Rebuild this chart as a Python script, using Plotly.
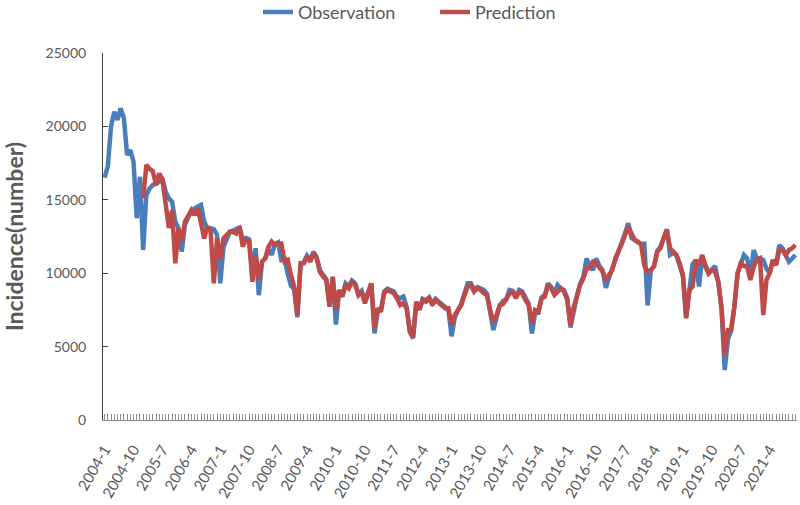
import plotly.graph_objects as go

months = [f"{y}-{m}" for y in range(2004, 2022) for m in range(1, 13)]

observation = [
    16500, 17300, 20000, 21000, 20440, 21230, 20570, 18050, 18390, 17600, 13760, 16570,
    11580, 15330, 15780, 16010, 16100, 16230, 16460, 15550, 15100, 14870, 13510, 13060,
    11470, 13280, 13800, 14190, 14420, 14500, 14650, 13510, 13060, 13060, 13000, 12600,
    9310, 11800, 12300, 12830, 12900, 13000, 13100, 12300, 12400, 12300, 9800, 11700,
    8500, 10800, 11000, 11600, 11250, 12000, 12100, 10900, 11000, 9950, 9150, 8900,
    7000, 10600, 10750, 11200, 10900, 11450, 11100, 10200, 9850, 9600, 7800, 9700,
    6500, 8800, 8500, 9300, 9100, 9500, 9300, 8600, 8800, 8100, 8700, 9300,
    5900, 7400, 7500, 8750, 8950, 8850, 8750, 8400, 8300, 8400, 7700, 6000,
    5560, 7900, 7600, 8250, 8150, 8350, 7950, 8250, 8050, 7950, 7700, 7500,
    5700, 7000, 7500, 7900, 8600, 9310, 9310, 8850, 9050, 8950, 8860, 8600,
    7300, 6130, 7000, 7800, 8100, 8200, 8860, 8800, 8400, 8850, 8750, 8250,
    7900, 5900, 7300, 7300, 8350, 8500, 9310, 9050, 8650, 9200, 8950, 8850,
    8300, 6300, 7600, 8450, 9300, 9750, 11000, 10600, 10200, 11000, 10500, 10200,
    9000, 9700, 10350, 11100, 11550, 12100, 12700, 13400, 12400, 12200, 12100, 12000,
    12000, 7800, 10200, 10500, 11500, 11800, 12450, 13000, 11250, 11400, 11200, 10600,
    9800, 7000, 8800, 10600, 10900, 9100, 11120, 10500, 10000, 10250, 10500, 9400,
    7600, 3400, 5500, 6100, 7700, 10000, 10700, 11240, 11000, 9700, 11580, 11000,
    11000, 10900, 10300, 10000, 10900, 10600, 11920, 11700, 11200, 10780, 11000, 11240,
]

prediction = [
    None, None, None, None, None, None, None, None, None, None, None, None,
    15100, 17370, 17100, 16950, 16010, 16800, 16350, 14650, 13080, 14300, 10670, 13060,
    12150, 13510, 13850, 14300, 13960, 14420, 13400, 12370, 13170, 12830, 9310, 12370,
    11010, 12370, 12600, 12830, 12800, 12700, 13170, 11810, 12260, 12150, 9420, 11240,
    9540, 10780, 11010, 11800, 12150, 11920, 12030, 12030, 10780, 10900, 9880, 9080,
    7150, 10670, 10670, 11120, 10780, 11350, 11010, 10100, 9760, 9540, 7720, 9760,
    7490, 8860, 8400, 9200, 8970, 9420, 9200, 8510, 8740, 7950, 8600, 9310,
    6250, 7610, 7380, 8630, 8860, 8740, 8630, 8290, 7830, 7950, 7610, 6020,
    5680, 8060, 7500, 8170, 8060, 8290, 7830, 8170, 7950, 7830, 7610, 7610,
    6470, 7150, 7500, 7830, 8510, 9080, 9200, 8740, 8970, 8860, 8630, 8510,
    7490, 6700, 7150, 7830, 7900, 8200, 8600, 8740, 8290, 8740, 8630, 8170,
    7830, 6590, 7490, 7380, 8290, 8400, 9200, 8970, 8520, 8740, 8970, 8740,
    8170, 6470, 7720, 8400, 9200, 9650, 10330, 10330, 10780, 10670, 10330, 10100,
    9540, 9900, 10220, 11010, 11470, 12030, 12600, 13170, 12710, 12260, 12150, 11920,
    10500, 10100, 10220, 10440, 11470, 11700, 12370, 12940, 11700, 11470, 11240, 10670,
    9880, 6930, 8860, 9080, 10900, 10560, 11240, 10440, 9990, 10220, 10100, 9420,
    7720, 4400, 6130, 6130, 7720, 9990, 10670, 10500, 10440, 9540, 10440, 10900,
    11010, 7150, 9540, 9990, 10900, 10560, 11580, 11580, 11240, 11580, 11700, 11920,
]

y_ticks = [0, 5000, 10000, 15000, 20000, 25000]
y_tick_text = [str(v) for v in y_ticks]
x_tick_text = [m if i % 9 == 0 else "" for i, m in enumerate(months)]

FONT = "Lato, 'Open Sans', sans-serif"

fig = go.Figure()
fig.add_trace(go.Scatter(
    x=months, y=observation, mode="lines", name="Observation",
    line=dict(color="#4A7EBB", width=4.5), connectgaps=False,
))
fig.add_trace(go.Scatter(
    x=months, y=prediction, mode="lines", name="Prediction",
    line=dict(color="#BE4B48", width=4.5), connectgaps=False,
))

fig.update_layout(
    width=800, height=505,
    margin=dict(l=103, r=3, t=53, b=85, autoexpand=False),
    paper_bgcolor="white", plot_bgcolor="white",
    font=dict(family=FONT, color="#595959", size=14),
    showlegend=True,
    legend=dict(orientation="h", x=0.2233, xanchor="left", y=1.111, yanchor="middle",
                font=dict(size=18, color="#595959"),
                entrywidth=132, entrywidthmode="pixels", tracegroupgap=0),
    xaxis=dict(
        type="category", categoryorder="array", categoryarray=months,
        range=[-0.5, len(months) - 0.5], automargin=False,
        tickmode="array", tickvals=months, ticktext=x_tick_text,
        tickangle=-60, ticks="inside", ticklen=6, tickcolor="#8c8c8c", tickwidth=1,
        ticklabelstandoff=14,
        showline=True, linecolor="#8c8c8c", linewidth=1,
        showgrid=False, zeroline=False,
        tickfont=dict(size=15, color="#595959"),
    ),
    yaxis=dict(
        range=[0, 25000], tickmode="array", tickvals=y_ticks, ticktext=y_tick_text,
        ticks="inside", ticklen=5, automargin=False, ticklabelstandoff=13,
        tickcolor="#404040", showline=True, linecolor="#404040", linewidth=1,
        showgrid=False, zeroline=False, tickfont=dict(size=14, color="#595959"),
        title=dict(text="<b>Incidence(number)</b>", font=dict(size=23, color="#595959"), standoff=18),
    ),
)

fig.write_html("out.html", config={"displayModeBar": False},
               post_script="document.body.style.margin='0px';")
